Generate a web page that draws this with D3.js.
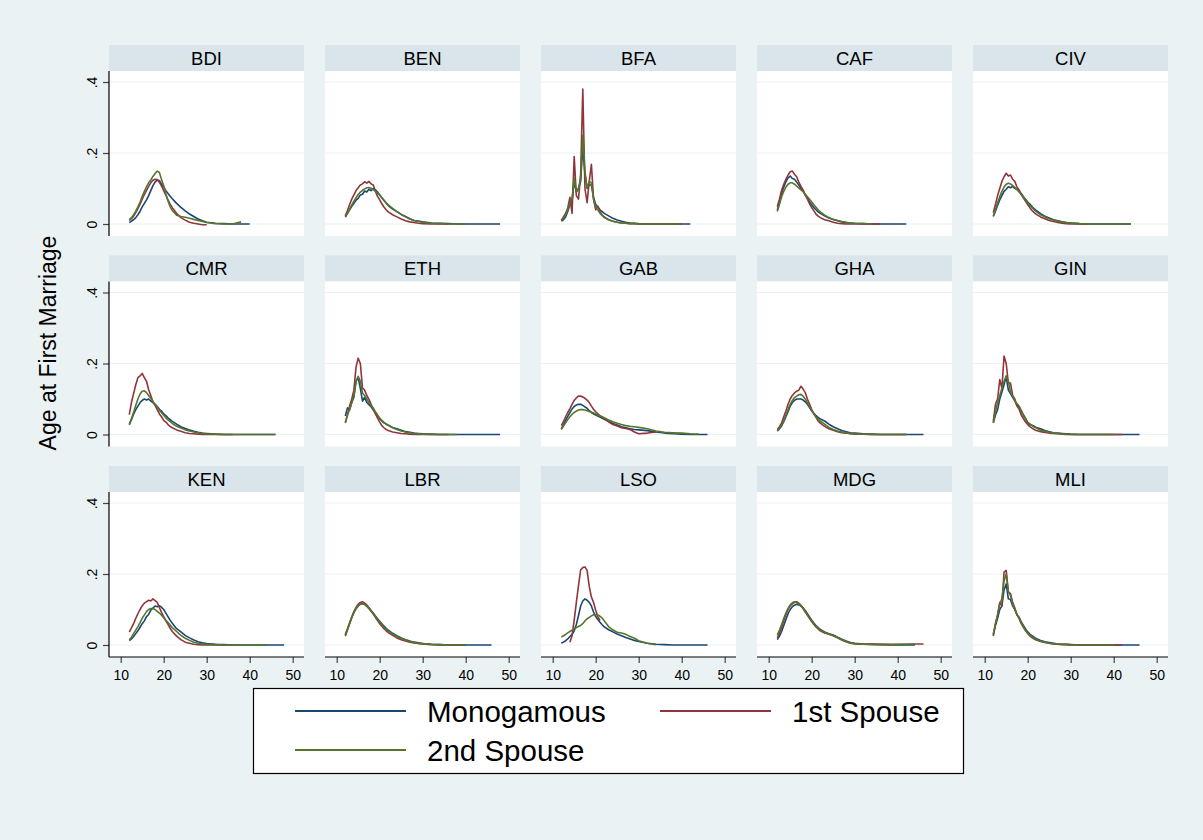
<!DOCTYPE html>
<html>
<head>
<meta charset="utf-8">
<script src="https://cdn.jsdelivr.net/npm/d3@7"></script>
<style>
  html, body { margin: 0; padding: 0; background: #eaf2f3; }
  svg { display: block; }
  text { font-family: "Liberation Sans", Arial, Helvetica, sans-serif; }
</style>
</head>
<body>
<svg id="chart" width="1203" height="840"></svg>
<script>
// Countries, one panel each (row-major, 5 per row)
const countries = ["BDI", "BEN", "BFA", "CAF", "CIV",
                   "CMR", "ETH", "GAB", "GHA", "GIN",
                   "KEN", "LBR", "LSO", "MDG", "MLI"];

// Age grid shared by every density series (half years up to 22, then coarser)
const ages = [12, 12.5, 13, 13.5, 14, 14.5, 15, 15.5, 16, 16.5, 17, 17.5, 18, 18.5, 19, 19.5, 20, 20.5, 21, 21.5, 22,
              23, 24, 25, 26, 27, 28, 29, 30,
              32, 34, 36, 38, 40, 42, 44, 46, 48];

const seriesNames = ["Monogamous", "1st Spouse", "2nd Spouse"];
const seriesColors = ["#1a476f", "#90353b", "#55752f"];

const xTicks = [10, 20, 30, 40, 50];
const yTicks = [0, 0.2, 0.4];
const yTickLabels = ["0", ".2", ".4"];

// Density of age at first marriage, monogamous wives (one array per country, on the age grid)
const monogamous = [
  [0.004,0.008,0.012,0.018,0.026,0.036,0.048,0.058,0.068,0.08,0.094,0.108,0.118,0.124,0.122,0.112,0.104,0.094,0.086,0.078,0.071, 0.058,0.047,0.037,0.028,0.021,0.014,0.009,0.005, 0.002,0.001,0,0,0],
  [0.021,0.03,0.04,0.05,0.058,0.067,0.072,0.082,0.084,0.093,0.09,0.098,0.094,0.1,0.096,0.09,0.082,0.074,0.066,0.059,0.052, 0.042,0.035,0.027,0.021,0.015,0.01,0.008,0.006, 0.003,0.002,0.001,0,0,0,0,0,0],
  [0.008,0.012,0.02,0.035,0.055,0.065,0.12,0.09,0.1,0.12,0.218,0.14,0.1,0.11,0.11,0.075,0.055,0.048,0.04,0.035,0.03, 0.023,0.016,0.011,0.008,0.005,0.003,0.002,0.001, 0,0,0,0,0,0],
  [0.039,0.062,0.086,0.104,0.119,0.13,0.135,0.128,0.126,0.118,0.11,0.1,0.092,0.082,0.075,0.062,0.054,0.046,0.04,0.034,0.03, 0.023,0.017,0.013,0.009,0.006,0.004,0.003,0.002, 0.001,0,0,0,0,0],
  [0.021,0.036,0.053,0.068,0.08,0.092,0.098,0.105,0.102,0.106,0.1,0.098,0.092,0.086,0.077,0.07,0.062,0.056,0.049,0.043,0.038, 0.029,0.022,0.017,0.012,0.009,0.006,0.004,0.003, 0.001,0,0,0,0,0,0],
  [0.028,0.042,0.057,0.07,0.08,0.09,0.096,0.1,0.097,0.1,0.094,0.09,0.085,0.079,0.071,0.066,0.058,0.053,0.047,0.042,0.037, 0.029,0.022,0.017,0.013,0.009,0.006,0.004,0.003, 0.001,0,0,0,0,0,0,0],
  [0.052,0.075,0.07,0.09,0.105,0.15,0.16,0.13,0.094,0.105,0.09,0.084,0.078,0.07,0.062,0.053,0.044,0.038,0.033,0.029,0.026, 0.02,0.016,0.012,0.008,0.006,0.004,0.003,0.002, 0.001,0,0,0,0,0,0,0,0],
  [0.016,0.027,0.04,0.051,0.062,0.072,0.079,0.083,0.085,0.085,0.082,0.078,0.074,0.067,0.062,0.058,0.055,0.052,0.049,0.046,0.043, 0.037,0.031,0.027,0.022,0.019,0.016,0.014,0.013, 0.011,0.007,0.004,0.002,0.001,0,0,0],
  [0.01,0.016,0.024,0.036,0.05,0.064,0.08,0.09,0.096,0.1,0.1,0.1,0.097,0.092,0.085,0.076,0.066,0.06,0.053,0.048,0.044, 0.038,0.029,0.022,0.016,0.011,0.008,0.005,0.004, 0.002,0.001,0,0,0,0,0,0],
  [0.033,0.055,0.07,0.1,0.12,0.14,0.164,0.125,0.115,0.105,0.095,0.082,0.078,0.065,0.055,0.045,0.032,0.028,0.026,0.023,0.02, 0.016,0.011,0.008,0.005,0.004,0.003,0.002,0.001, 0,0,0,0,0,0,0,0],
  [0.012,0.017,0.024,0.032,0.04,0.05,0.06,0.068,0.08,0.086,0.098,0.104,0.11,0.108,0.111,0.106,0.1,0.09,0.08,0.07,0.061, 0.046,0.037,0.027,0.02,0.014,0.009,0.006,0.004, 0.002,0.001,0,0,0,0,0,0,0],
  [0.03,0.045,0.062,0.078,0.092,0.103,0.11,0.115,0.117,0.115,0.11,0.104,0.097,0.09,0.082,0.074,0.067,0.06,0.053,0.047,0.042, 0.033,0.026,0.02,0.015,0.011,0.008,0.006,0.004, 0.002,0.001,0,0,0,0,0,0],
  [0.006,0.008,0.012,0.017,0.024,0.03,0.04,0.058,0.083,0.11,0.124,0.13,0.126,0.12,0.11,0.093,0.08,0.072,0.064,0.057,0.051, 0.043,0.037,0.031,0.026,0.021,0.017,0.013,0.01, 0.005,0.002,0.001,0,0,0,0,0],
  [0.015,0.025,0.038,0.055,0.072,0.088,0.1,0.108,0.112,0.115,0.113,0.11,0.104,0.097,0.088,0.079,0.07,0.062,0.055,0.049,0.044, 0.037,0.032,0.028,0.022,0.016,0.011,0.007,0.005, 0.003,0.002,0.001,0.001,0,0,0],
  [0.03,0.055,0.075,0.1,0.11,0.155,0.172,0.13,0.128,0.11,0.1,0.085,0.078,0.065,0.055,0.045,0.037,0.031,0.026,0.022,0.018, 0.013,0.009,0.007,0.005,0.003,0.002,0.002,0.001, 0,0,0,0,0,0,0,0]
];

// Density for first spouses in polygamous unions
const firstSpouse = [
  [0.01,0.015,0.022,0.032,0.043,0.056,0.07,0.083,0.095,0.106,0.116,0.123,0.126,0.125,0.118,0.107,0.094,0.081,0.068,0.056,0.046, 0.03,0.018,0.011,0.005,0.002,0,-0.002,-0.002],
  [0.023,0.038,0.055,0.07,0.082,0.094,0.102,0.11,0.113,0.119,0.115,0.12,0.113,0.11,0.092,0.078,0.068,0.057,0.048,0.04,0.034, 0.026,0.02,0.014,0.009,0.006,0.004,0.002,0.001, 0,0,0],
  [0.01,0.02,0.03,0.045,0.075,0.03,0.19,0.08,0.07,0.14,0.38,0.1,0.06,0.12,0.168,0.07,0.04,0.05,0.035,0.025,0.02, 0.012,0.008,0.005,0.003,0.002,0.001,0.001,0, 0,0,0,0,0],
  [0.049,0.07,0.095,0.112,0.126,0.138,0.147,0.149,0.14,0.133,0.118,0.106,0.096,0.082,0.07,0.057,0.046,0.037,0.028,0.022,0.018, 0.012,0.009,0.005,0.002,0.001,0,0,0, 0,0,0],
  [0.032,0.055,0.08,0.1,0.12,0.133,0.143,0.135,0.138,0.126,0.12,0.104,0.096,0.083,0.074,0.064,0.055,0.046,0.038,0.032,0.027, 0.02,0.015,0.01,0.007,0.004,0.002,0.001,0, 0,0],
  [0.056,0.09,0.115,0.14,0.16,0.165,0.172,0.16,0.15,0.126,0.11,0.092,0.082,0.07,0.058,0.05,0.04,0.035,0.028,0.023,0.019, 0.013,0.009,0.005,0.003,0.002,0.001,0,0, 0,0,0],
  [0.033,0.055,0.08,0.1,0.125,0.19,0.215,0.2,0.131,0.125,0.11,0.099,0.085,0.07,0.058,0.046,0.035,0.025,0.019,0.014,0.011, 0.007,0.005,0.003,0.002,0.001,0,0,0, 0,0,0],
  [0.025,0.036,0.05,0.062,0.073,0.085,0.096,0.103,0.108,0.108,0.106,0.102,0.097,0.09,0.08,0.071,0.064,0.058,0.053,0.048,0.044, 0.036,0.028,0.024,0.019,0.017,0.014,0.007,0.002, 0.004,0.007],
  [0.014,0.022,0.033,0.05,0.066,0.085,0.1,0.11,0.117,0.122,0.125,0.136,0.128,0.118,0.1,0.086,0.07,0.058,0.048,0.038,0.032, 0.023,0.016,0.012,0.008,0.005,0.004,0.002,0.001, 0.001,0,0,0,0,0],
  [0.038,0.085,0.1,0.155,0.13,0.221,0.2,0.145,0.145,0.11,0.1,0.08,0.072,0.055,0.045,0.035,0.028,0.022,0.018,0.014,0.011, 0.008,0.006,0.004,0.003,0.002,0.001,0,0, 0,0,0,0,0,0],
  [0.036,0.048,0.06,0.075,0.088,0.1,0.11,0.118,0.122,0.126,0.124,0.13,0.125,0.12,0.105,0.092,0.08,0.068,0.058,0.047,0.038, 0.025,0.015,0.008,0.005,0.002,0.001,0,0, 0,0,0],
  [0.025,0.042,0.06,0.078,0.094,0.106,0.115,0.12,0.122,0.118,0.113,0.105,0.096,0.087,0.078,0.069,0.06,0.053,0.046,0.04,0.035, 0.027,0.02,0.015,0.011,0.008,0.006,0.004,0.003, 0.001,0,0,0,0],
  [null,null,null,null,0.008,0.026,0.07,0.12,0.167,0.212,0.218,0.22,0.21,0.165,0.135,0.12,0.098,0.08,0.069],
  [0.02,0.033,0.05,0.068,0.085,0.1,0.11,0.116,0.12,0.122,0.118,0.112,0.104,0.095,0.085,0.075,0.066,0.058,0.051,0.045,0.04, 0.034,0.03,0.026,0.02,0.014,0.009,0.005,0.003, 0.002,0.003,0.002,0.001,0.002,0.002,0.003,0.003],
  [0.025,0.06,0.085,0.12,0.11,0.205,0.21,0.15,0.145,0.12,0.105,0.085,0.075,0.06,0.05,0.04,0.032,0.026,0.021,0.017,0.014, 0.01,0.007,0.005,0.003,0.002,0.001,0.001,0, 0,0,0,0,0,0]
];

// Density for second spouses in polygamous unions
const secondSpouse = [
  [0.012,0.018,0.026,0.036,0.048,0.062,0.077,0.092,0.105,0.116,0.124,0.134,0.142,0.149,0.145,0.125,0.108,0.085,0.065,0.049,0.038, 0.025,0.021,0.019,0.016,0.013,0.01,0.007,0.004, 0.001,0,0,0.006],
  [0.019,0.03,0.042,0.054,0.064,0.074,0.083,0.09,0.095,0.099,0.102,0.103,0.101,0.097,0.092,0.087,0.081,0.074,0.067,0.06,0.054, 0.044,0.035,0.027,0.02,0.014,0.01,0.007,0.005, 0.002,0.001,0,0,0],
  [0.01,0.015,0.025,0.04,0.06,0.07,0.13,0.09,0.1,0.13,0.25,0.15,0.1,0.12,0.115,0.07,0.045,0.04,0.03,0.024,0.018, 0.012,0.008,0.005,0.003,0.002,0.001,0.001,0, 0,0,0,0,0],
  [0.035,0.055,0.077,0.092,0.104,0.112,0.116,0.116,0.112,0.107,0.101,0.096,0.091,0.084,0.077,0.07,0.062,0.054,0.047,0.04,0.034, 0.025,0.018,0.013,0.01,0.007,0.005,0.003,0.002, 0.001,0],
  [0.023,0.04,0.06,0.077,0.092,0.104,0.112,0.115,0.113,0.108,0.103,0.097,0.09,0.083,0.075,0.068,0.06,0.052,0.046,0.04,0.035, 0.026,0.02,0.015,0.011,0.008,0.005,0.004,0.003, 0.001,0,0,0,0,0,0],
  [0.028,0.045,0.063,0.082,0.1,0.114,0.122,0.123,0.118,0.11,0.102,0.093,0.085,0.077,0.068,0.061,0.054,0.047,0.041,0.036,0.031, 0.023,0.018,0.013,0.01,0.007,0.005,0.003,0.002, 0.001,0,0,0,0,0,0,0],
  [0.033,0.055,0.07,0.09,0.11,0.15,0.164,0.15,0.117,0.11,0.1,0.09,0.081,0.075,0.064,0.055,0.046,0.04,0.034,0.03,0.026, 0.019,0.014,0.01,0.007,0.005,0.003,0.002,0.001, 0,0,0,0],
  [0.014,0.024,0.033,0.042,0.05,0.057,0.062,0.066,0.069,0.07,0.07,0.069,0.067,0.065,0.063,0.061,0.058,0.055,0.053,0.05,0.047, 0.041,0.036,0.032,0.028,0.025,0.023,0.022,0.02, 0.016,0.01,0.006,0.005,0.004,0.002,0.001],
  [0.01,0.018,0.028,0.04,0.055,0.07,0.085,0.096,0.104,0.108,0.112,0.113,0.108,0.1,0.09,0.079,0.068,0.058,0.05,0.043,0.038, 0.029,0.02,0.014,0.01,0.007,0.005,0.003,0.002, 0.001,0,0,0,0,0],
  [0.033,0.065,0.09,0.11,0.13,0.15,0.165,0.15,0.12,0.108,0.095,0.087,0.08,0.068,0.055,0.045,0.035,0.03,0.025,0.021,0.018, 0.012,0.009,0.006,0.004,0.003,0.002,0.001,0, 0,0,0,0,0],
  [0.015,0.022,0.032,0.042,0.052,0.063,0.075,0.085,0.094,0.1,0.103,0.103,0.1,0.095,0.09,0.084,0.077,0.07,0.063,0.056,0.049, 0.038,0.027,0.019,0.013,0.008,0.005,0.003,0.002, 0.001,0,0,0,0,0,0],
  [0.028,0.044,0.061,0.077,0.091,0.102,0.11,0.115,0.116,0.114,0.109,0.102,0.095,0.088,0.08,0.072,0.064,0.057,0.05,0.044,0.039, 0.031,0.024,0.018,0.014,0.01,0.007,0.005,0.004, 0.002,0.001,0,0,0],
  [0.022,0.026,0.03,0.034,0.038,0.042,0.045,0.049,0.052,0.055,0.06,0.068,0.074,0.078,0.082,0.085,0.086,0.085,0.081,0.076,0.068, 0.052,0.042,0.036,0.034,0.03,0.024,0.019,0.012, 0.005,0.001],
  [0.028,0.042,0.058,0.075,0.09,0.103,0.113,0.119,0.122,0.12,0.116,0.11,0.102,0.093,0.084,0.075,0.067,0.06,0.053,0.047,0.042, 0.035,0.031,0.027,0.021,0.015,0.01,0.006,0.004, 0.002,0.001,0.001,0.001,0.001,0.002,0.002],
  [0.03,0.06,0.085,0.115,0.13,0.18,0.2,0.15,0.14,0.115,0.1,0.085,0.076,0.062,0.052,0.042,0.034,0.028,0.023,0.019,0.015, 0.011,0.008,0.005,0.004,0.003,0.002,0.001,0.001, 0,0,0,0,0]
];

const yTitle = "Age at First Marriage";

// ---- layout ----
const svg = d3.select("#chart");
const W = 1203, H = 840;
const nCols = 5;
const colX0 = 109, colStep = 216, panelW = 195;
const rowY0 = 45, rowStep = 210.5, headerH = 26, plotH = 165;
const font = "'Liberation Sans', Arial, Helvetica, sans-serif";

svg.append("rect").attr("width", W).attr("height", H).attr("fill", "#eaf2f3");

const seriesData = [monogamous, firstSpouse, secondSpouse];

countries.forEach((c, i) => {
  const col = i % nCols, row = Math.floor(i / nCols);
  const left = colX0 + col * colStep;
  const top = rowY0 + row * rowStep;
  const plotTop = top + headerH;

  const g = svg.append("g");

  // header strip with country code
  g.append("rect").attr("x", left).attr("y", top).attr("width", panelW).attr("height", headerH)
    .attr("fill", "#d9e5eb");
  g.append("text").attr("x", left + panelW / 2).attr("y", top + headerH / 2 + 6.5)
    .attr("text-anchor", "middle").attr("font-size", 18.5).attr("fill", "#000").text(c);

  // plot region
  g.append("rect").attr("x", left).attr("y", plotTop).attr("width", panelW).attr("height", plotH)
    .attr("fill", "#ffffff");

  const x = d3.scaleLinear().domain([10, 50]).range([left + 11.7, left + 183.7]);
  const y = d3.scaleLinear().domain([0, 0.4]).range([plotTop + 153, plotTop + 11]);

  // horizontal gridlines
  g.selectAll(".grid").data(yTicks).join("line")
    .attr("x1", left).attr("x2", left + panelW)
    .attr("y1", d => y(d)).attr("y2", d => y(d))
    .attr("stroke", "#eaf2f3").attr("stroke-width", 1.2);

  // density lines
  const line = d3.line()
    .defined(d => d[1] != null)
    .x(d => x(d[0])).y(d => y(d[1]));
  seriesData.forEach((arr, s) => {
    const vals = arr[i];
    const pts = vals.map((v, k) => [ages[k], v]);
    g.append("path").datum(pts)
      .attr("d", line)
      .attr("fill", "none")
      .attr("stroke", seriesColors[s])
      .attr("stroke-width", 1.6)
      .attr("stroke-linejoin", "round");
  });

  // y axis on first column
  if (col === 0) {
    const ax = g.append("g").attr("transform", `translate(${left},0)`)
      .call(d3.axisLeft(y).tickValues(yTicks).tickSize(6).tickFormat((d, k) => yTickLabels[k]));
    ax.select(".domain").remove();
    ax.selectAll(".tick line").attr("stroke", "#444").attr("stroke-width", 1.2);
    ax.selectAll(".tick text")
      .attr("font-family", font).attr("font-size", 14).attr("fill", "#000")
      .attr("text-anchor", "middle")
      .attr("x", 0).attr("y", 0).attr("dy", "0em")
      .attr("transform", "translate(-12,0) rotate(-90)");
    g.append("line").attr("x1", left).attr("x2", left)
      .attr("y1", plotTop).attr("y2", plotTop + plotH)
      .attr("stroke", "#000").attr("stroke-width", 1.2);
  }

  // x axis on bottom row
  if (row === 2) {
    const ax = g.append("g").attr("transform", `translate(0,${plotTop + plotH})`)
      .call(d3.axisBottom(x).tickValues(xTicks).tickSize(6).tickFormat(d3.format("d")));
    ax.select(".domain").remove();
    ax.selectAll(".tick line").attr("stroke", "#444").attr("stroke-width", 1.2);
    ax.selectAll(".tick text").attr("font-family", font).attr("font-size", 14).attr("fill", "#000")
      .attr("y", 11).attr("dy", "0.85em");
    g.append("line").attr("x1", left).attr("x2", left + panelW)
      .attr("y1", plotTop + plotH).attr("y2", plotTop + plotH)
      .attr("stroke", "#000").attr("stroke-width", 1.2);
  }
});

// y axis title
svg.append("text")
  .attr("transform", "translate(56,343) rotate(-90)")
  .attr("text-anchor", "middle").attr("font-size", 23).attr("fill", "#000")
  .text(yTitle);

// legend
const lg = svg.append("g");
lg.append("rect").attr("x", 253.5).attr("y", 688.5).attr("width", 710).attr("height", 85)
  .attr("fill", "#ffffff").attr("stroke", "#000").attr("stroke-width", 1.2);
const legendPos = [[295, 711], [660, 711], [295, 750]];
seriesNames.forEach((name, s) => {
  const [lx, ly] = legendPos[s];
  lg.append("line").attr("x1", lx).attr("x2", lx + 111).attr("y1", ly).attr("y2", ly)
    .attr("stroke", seriesColors[s]).attr("stroke-width", 1.8);
  lg.append("text").attr("x", lx + 132).attr("y", ly + 10.5)
    .attr("font-size", 29.5).attr("fill", "#000").text(name);
});
</script>
</body>
</html>
